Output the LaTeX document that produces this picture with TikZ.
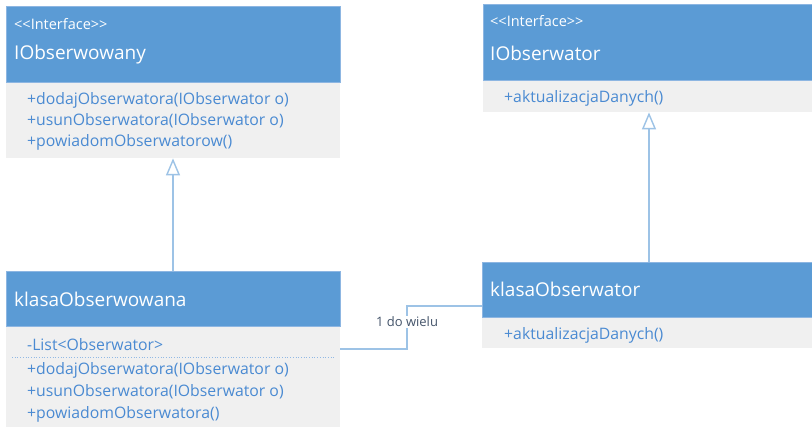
\documentclass[tikz,border=0pt]{standalone}
\usepackage{fontspec}
\setmainfont{Open Sans}
\usetikzlibrary{arrows.meta}
\definecolor{hdrblue}{HTML}{5B9BD5}
\definecolor{hdredge}{HTML}{8DB6E2}
\definecolor{bodygray}{HTML}{F0F0F0}
\definecolor{membertext}{HTML}{4A8AD2}
\definecolor{linkblue}{HTML}{9DC3E6}
\definecolor{labeltext}{HTML}{44546A}
\tikzset{
  hdrbox/.style={rectangle, fill=hdrblue, draw=hdredge, line width=0.6pt, inner sep=0, anchor=north west},
  bodybox/.style={rectangle, fill=bodygray, inner sep=0, anchor=north west},
  stereo/.style={anchor=west, inner sep=0, text=white, font=\fontsize{14.5}{16}\selectfont},
  clsname/.style={anchor=west, inner sep=0, text=white, font=\fontsize{19}{22}\selectfont},
  member/.style={anchor=west, inner sep=0, text=membertext, font=\fontsize{15.8}{18}\selectfont},
  realizes/.style={draw=linkblue, line width=1.6pt, -{Triangle[open, width=14pt, length=17pt, line width=1.4pt, fill=white]}},
  assoc/.style={draw=linkblue, line width=1.6pt},
  assoclabel/.style={inner sep=1pt, text=labeltext, font=\fontsize{13}{15}\selectfont}
}
\begin{document}
\begin{tikzpicture}[x=1pt, y=-1pt]
\useasboundingbox (0,0) rectangle (812,427);
\fill[white] (0,0) rectangle (812,427);

% IObserwowany interface
\node[bodybox, minimum width=334, minimum height=76] (b1) at (6,82) {};
\node[hdrbox, minimum width=334, minimum height=76] (h1) at (6,6) {};
\node[stereo] (s1) at (14,24) {<{}<Interface>{}>};
\node[clsname] (n1) at (14,55) {IObserwowany};
\node[member] (m11) at (27,100) {+dodajObserwatora(IObserwator o)};
\node[member] (m12) at (27,121) {+usunObserwatora(IObserwator o)};
\node[member] (m13) at (27,142) {+powiadomObserwatorow()};

% IObserwator interface
\node[bodybox, minimum width=332, minimum height=32] (b2) at (483,80) {};
\node[hdrbox, minimum width=332, minimum height=76] (h2) at (483,4) {};
\node[stereo] (s2) at (490,21) {<{}<Interface>{}>};
\node[clsname] (n2) at (490,53) {IObserwator};
\node[member] (m21) at (504,98) {+aktualizacjaDanych()};

% klasaObserwowana
\node[bodybox, minimum width=334, minimum height=104] (b3) at (6,326) {};
\node[hdrbox, minimum width=334, minimum height=55] (h3) at (6,271) {};
\node[clsname] (n3) at (14,299) {klasaObserwowana};
\node[member] (a31) at (27,345) {-List<Obserwator>};
\draw[membertext!60, dotted, line width=0.7pt] (12,357) -- (334,357);
\node[member] (m31) at (27,370) {+dodajObserwatora(IObserwator o)};
\node[member] (m32) at (27,392) {+usunObserwatora(IObserwator o)};
\node[member] (m33) at (27,414) {+powiadomObserwatora()};

% klasaObserwator
\node[bodybox, minimum width=332, minimum height=31] (b4) at (482,317) {};
\node[hdrbox, minimum width=332, minimum height=55] (h4) at (482,262) {};
\node[clsname] (n4) at (490,289) {klasaObserwator};
\node[member] (m41) at (504,335) {+aktualizacjaDanych()};

% realizations
\draw[realizes] (h3.north -| 173,0) -- (b1.south -| 173,0);
\draw[realizes] (h4.north -| 649,0) -- (b2.south -| 649,0);

% association
\node[assoclabel] (al) at (407,322) {1 do wielu};
\coordinate (assocL) at (340,349);
\coordinate (assocR) at (482,306);
\draw[assoc] (assocL) -| (al.south);
\draw[assoc] (al.north) |- (assocR);
\end{tikzpicture}
\end{document}
